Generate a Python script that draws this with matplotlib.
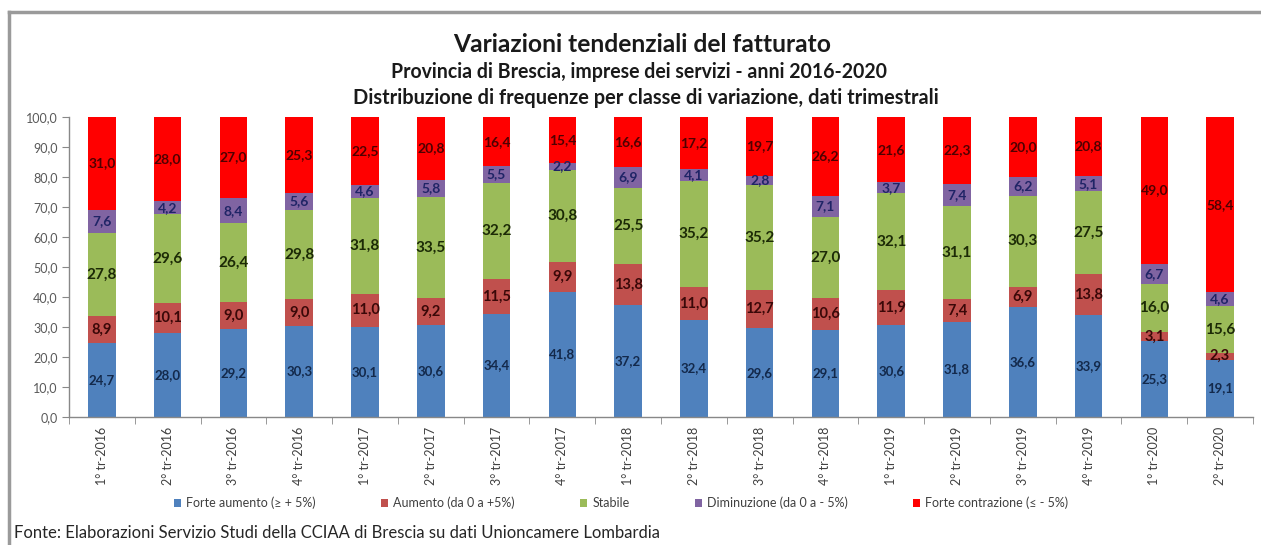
import matplotlib
matplotlib.use('Agg')
import matplotlib.pyplot as plt
from matplotlib.patches import Patch
from matplotlib.lines import Line2D
import numpy as np

plt.rcParams['font.family'] = ['Lato', 'DejaVu Sans']

categories = ["1° tr-2016", "2° tr-2016", "3° tr-2016", "4° tr-2016",
              "1° tr-2017", "2° tr-2017", "3° tr-2017", "4° tr-2017",
              "1° tr-2018", "2° tr-2018", "3° tr-2018", "4° tr-2018",
              "1° tr-2019", "2° tr-2019", "3° tr-2019", "4° tr-2019",
              "1° tr-2020", "2° tr-2020"]

forte_aumento = [24.7, 28.0, 29.2, 30.3, 30.1, 30.6, 34.4, 41.8, 37.2,
                 32.4, 29.6, 29.1, 30.6, 31.8, 36.6, 33.9, 25.3, 19.1]
aumento = [8.9, 10.1, 9.0, 9.0, 11.0, 9.2, 11.5, 9.9, 13.8,
           11.0, 12.7, 10.6, 11.9, 7.4, 6.9, 13.8, 3.1, 2.3]
stabile = [27.8, 29.6, 26.4, 29.8, 31.8, 33.5, 32.2, 30.8, 25.5,
           35.2, 35.2, 27.0, 32.1, 31.1, 30.3, 27.5, 16.0, 15.6]
diminuzione = [7.6, 4.2, 8.4, 5.6, 4.6, 5.8, 5.5, 2.2, 6.9,
               4.1, 2.8, 7.1, 3.7, 7.4, 6.2, 5.1, 6.7, 4.6]
forte_contrazione = [31.0, 28.0, 27.0, 25.3, 22.5, 20.8, 16.4, 15.4, 16.6,
                     17.2, 19.7, 26.2, 21.6, 22.3, 20.0, 20.8, 49.0, 58.4]

series_names = ["Forte aumento (≥ + 5%)", "Aumento (da 0 a +5%)", "Stabile",
                "Diminuzione (da 0 a - 5%)", "Forte contrazione (≤ - 5%)"]

title = "Variazioni tendenziali del fatturato"
subtitle1 = "Provincia di Brescia, imprese dei servizi - anni 2016-2020"
subtitle2 = "Distribuzione di frequenze per classe di variazione, dati trimestrali"
source = "Fonte: Elaborazioni Servizio Studi della CCIAA di Brescia su dati Unioncamere Lombardia"

colors = ['#4F81BD', '#C0504D', '#9BBB59', '#8064A2', '#FF0000']
label_colors = ['#13294B', '#3A0808', '#1C2A06', '#1F2466', '#4F0000']
label_sizes = [9.5, 10.5, 11, 10, 10]

W, H = 1261, 545
fig = plt.figure(figsize=(W / 100, H / 100), dpi=100)
fig.patch.set_facecolor('white')

ax = fig.add_axes([69 / W, 1 - 417 / H, (1253 - 69) / W, (417 - 117) / H])

x = np.arange(len(categories))
bottom = np.zeros(len(categories))
all_series = [forte_aumento, aumento, stabile, diminuzione, forte_contrazione]
for vals, col, lc, ls in zip(all_series, colors, label_colors, label_sizes):
    vals = np.array(vals)
    cont = ax.bar(x, vals, bottom=bottom, width=0.42, color=col, linewidth=0)
    labels = [f"{v:.1f}".replace('.', ',') for v in vals]
    ax.bar_label(cont, labels=labels, label_type='center', fontsize=ls,
                 color=lc, fontweight='bold')
    bottom = bottom + vals

ax.set_xlim(-0.5, len(categories) - 0.5)
ax.set_ylim(0, 100)
ax.set_yticks(np.arange(0, 101, 10))
ax.set_yticklabels([f"{v:.1f}".replace('.', ',') for v in np.arange(0, 101, 10)])
ax.set_xticks(x)
ax.set_xticklabels(categories, rotation=90, fontsize=9, color='#404040')
ax.set_xticks(np.arange(-0.5, len(categories), 1), minor=True)
ax.tick_params(axis='x', which='major', length=0, pad=7)
ax.tick_params(axis='x', which='minor', length=5, direction='out', color='#888888')
ax.tick_params(axis='y', length=5, direction='out', color='#888888',
               labelsize=9, labelcolor='#595959', pad=3)
for s in ['top', 'right']:
    ax.spines[s].set_visible(False)
for s in ['left', 'bottom']:
    ax.spines[s].set_color('#888888')
    ax.spines[s].set_linewidth(1)
ax.set_facecolor('white')

renderer = fig.canvas.get_renderer()


def fit_text(xp, yp, s, target_w, ha='center', **kw):
    t = fig.text(xp / W, 1 - yp / H, s, ha=ha, va='center', fontsize=10, **kw)
    w = t.get_window_extent(renderer=renderer).width
    t.set_fontsize(10 * target_w / w)
    return t


fit_text(642, 45, title, 380, fontweight='bold', color='#1a1a1a')
fit_text(639, 72, subtitle1, 498, fontweight='bold', color='#1a1a1a')
fit_text(646, 98, subtitle2, 585, fontweight='bold', color='#1a1a1a')
fit_text(14, 533, source, 646, ha='left', color='#262626')

handles = [Patch(facecolor=c, edgecolor='none') for c in colors]
fig.legend(handles, series_names, loc='center', bbox_to_anchor=(621 / W, 1 - 503 / H),
           ncol=5, frameon=False, fontsize=9, handlelength=0.6, handleheight=0.6,
           handletextpad=0.4, columnspacing=5.2, labelcolor='#404040')

# outer frame
fig.add_artist(Line2D([9 / W, 1], [1 - 12 / H, 1 - 12 / H], color='#9a9a9a', lw=2.5))
fig.add_artist(Line2D([9 / W, 9 / W], [0, 1 - 12 / H], color='#9a9a9a', lw=2.5))

fig.savefig('out.png', dpi=100, facecolor='white')
